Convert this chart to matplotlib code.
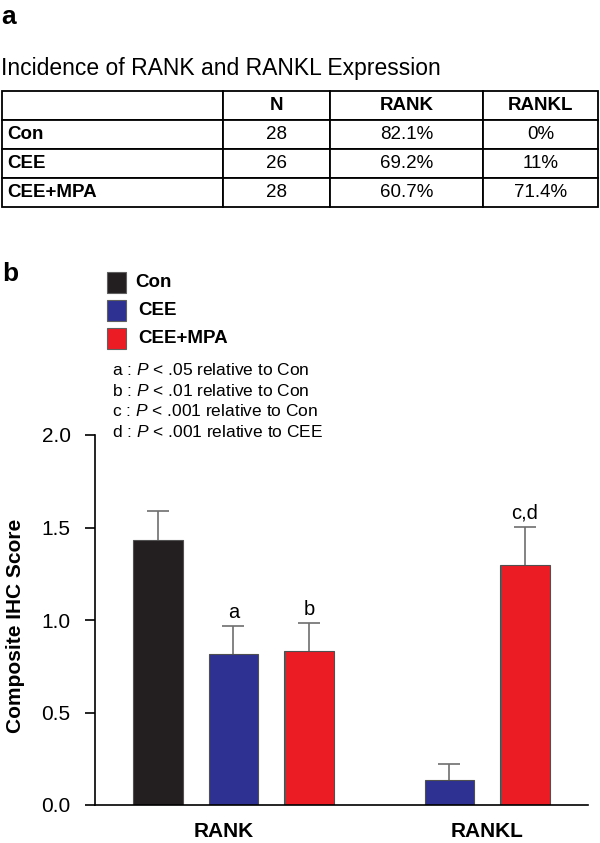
import numpy as np
import matplotlib
matplotlib.use("Agg")
import matplotlib.pyplot as plt
from matplotlib.patches import Rectangle
from matplotlib.table import Table
from matplotlib.font_manager import FontProperties

plt.rcParams['font.family'] = ['Liberation Sans', 'DejaVu Sans']
plt.rcParams['mathtext.fontset'] = 'custom'
plt.rcParams['mathtext.rm'] = 'Liberation Sans'
plt.rcParams['mathtext.it'] = 'Liberation Sans:italic'

# ---- data ----
# table (panel a)
table_title = "Incidence of RANK and RANKL Expression"
table_cols = ["", "N", "RANK", "RANKL"]
groups_tbl = ["Con", "CEE", "CEE+MPA"]
n_animals = [28, 26, 28]
rank_incidence = ["82.1%", "69.2%", "60.7%"]
rankl_incidence = ["0%", "11%", "71.4%"]

# bar chart (panel b)
markers = ["RANK", "RANKL"]
series = ["Con", "CEE", "CEE+MPA"]
con_mean = [1.43, 0.0]
cee_mean = [0.816, 0.135]
mpa_mean = [0.832, 1.297]
con_sem = [0.16, 0.0]
cee_sem = [0.152, 0.085]
mpa_sem = [0.150, 0.207]
con_sig = ["", ""]
cee_sig = ["a", ""]
mpa_sig = ["b", "c,d"]
footnotes = [
    "a : $P$ < .05 relative to Con",
    "b : $P$ < .01 relative to Con",
    "c : $P$ < .001 relative to Con",
    "d : $P$ < .001 relative to CEE",
]

colors = ['#231f20', '#2e3192', '#ec1c24']

W, H = 600, 843
fig = plt.figure(figsize=(W / 100, H / 100), dpi=100)


def fx(x):
    return x / W


def fy(y):
    return 1 - y / H


# ---- panel a: table ----
fig.text(fx(1), fy(17), "a", fontsize=19, fontweight='bold', va='center', ha='left')
fig.text(fx(1), fy(69), table_title, fontsize=16.5, va='center', ha='left')

tax = fig.add_axes([fx(2), fy(207), fx(596), 116 / H])
tax.axis('off')
col_w = [221, 107, 153, 115]
rows = [table_cols] + [[g, str(n), r1, r2] for g, n, r1, r2 in
                       zip(groups_tbl, n_animals, rank_incidence, rankl_incidence)]
tbl = Table(tax, bbox=[0, 0, 1, 1])
for r, row in enumerate(rows):
    for c, txt in enumerate(row):
        bold = (r == 0 or c == 0)
        fp = FontProperties(family='Liberation Sans', size=13.5,
                            weight='bold' if bold else 'normal')
        cell = tbl.add_cell(r, c, width=col_w[c], height=29, text=txt,
                            loc='left' if c == 0 else 'center',
                            fontproperties=fp, edgecolor='black')
        cell.set_linewidth(1.3)
        if c == 0:
            cell.PAD = 0.022
tax.add_table(tbl)

# ---- panel b: bars ----
fig.text(fx(2), fy(274), "b", fontsize=19, fontweight='bold', va='center', ha='left')

ax = fig.add_axes([fx(95), fy(805), 493 / W, 370 / H])
means = [con_mean, cee_mean, mpa_mean]
sems = [con_sem, cee_sem, mpa_sem]
sigs = [con_sig, cee_sig, mpa_sig]
group_start = np.array([0.0, 2.86])
width = 0.66

for i in range(len(series)):
    x = group_start + i
    m = np.array(means[i])
    e = np.array(sems[i])
    ax.bar(x, m, width, color=colors[i], edgecolor='#505050', linewidth=0.8, zorder=2)
    keep = m > 0
    eb = ax.errorbar(x[keep], m[keep], yerr=[np.zeros(keep.sum()), e[keep]], fmt='none',
                     ecolor='#6e6e6e', elinewidth=1.2, capsize=8, capthick=1.2, zorder=1)
    # only the upper cap
    eb[1][0].set_visible(False)
    for xi, mi, ei, s in zip(x, m, e, sigs[i]):
        if s:
            ax.annotate(s, (xi, mi + ei), xytext=(0, 3), textcoords='offset points',
                        ha='center', va='bottom', fontsize=14.5)

centers = [np.mean([group_start[0] + i for i in range(3)]) - 0.13,
           np.mean([group_start[1] + i for i in range(1, 3)])]
ax.set_xticks(centers)
ax.set_xticklabels(markers, fontsize=15, fontweight='bold')
ax.tick_params(axis='x', length=0, pad=12)
ax.set_xlim(-0.834, 5.695)
ax.set_ylim(0, 2.0)
ax.set_yticks(np.arange(0, 2.01, 0.5))
ax.set_yticklabels([f"{v:.1f}" for v in np.arange(0, 2.01, 0.5)], fontsize=15)
ax.tick_params(axis='y', direction='out', length=7.5, width=1.2, pad=10)
for sp in ['top', 'right']:
    ax.spines[sp].set_visible(False)
for sp in ['left', 'bottom']:
    ax.spines[sp].set_linewidth(1.2)
ax.set_ylabel("Composite IHC Score", fontsize=15, fontweight='bold')
ax.yaxis.set_label_coords(-0.142, 0.485)

# legend
leg_y = [282.5, 310.5, 338.5]
leg_tx = [135, 138, 138]
for i, name in enumerate(series):
    fig.add_artist(Rectangle((fx(107), fy(leg_y[i] + 10.5)), 19 / W, 21 / H,
                             transform=fig.transFigure, facecolor=colors[i],
                             edgecolor='#606060', linewidth=0.8))
    fig.text(fx(leg_tx[i]), fy(leg_y[i]), name, fontsize=13.5, fontweight='bold',
             va='center', ha='left')

for j, line in enumerate(footnotes):
    fig.text(fx(112), fy(370 + j * 20.7), line, fontsize=12.5, va='center', ha='left')

fig.savefig("out.png", dpi=100)
